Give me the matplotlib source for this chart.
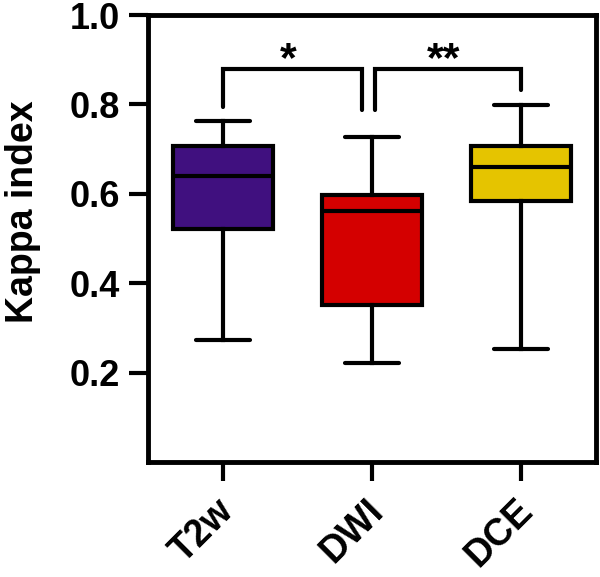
import matplotlib
matplotlib.use('Agg')
import matplotlib.pyplot as plt
import matplotlib.transforms as mtransforms

plt.rcParams['font.family'] = ['Liberation Sans', 'DejaVu Sans']
plt.rcParams['font.weight'] = 'bold'

groups = ['T2w', 'DWI', 'DCE']
whislo = [0.272, 0.222, 0.253]
q1 = [0.522, 0.352, 0.583]
med = [0.640, 0.562, 0.661]
q3 = [0.708, 0.598, 0.706]
whishi = [0.763, 0.728, 0.798]
colors = ['#40107F', '#D40000', '#E5C400']

# significance brackets: (x_left, x_right, y_top, left leg end, right leg end, label)
brackets = [
    (0.0, 0.936, 0.879, 0.795, 0.788, '*'),
    (1.02, 2.0, 0.879, 0.788, 0.832, '**'),
]

yticks = [0.2, 0.4, 0.6, 0.8, 1.0]

fig = plt.figure(figsize=(6, 5.77), dpi=100)
ax = fig.add_axes([0.2467, 0.1993, 0.7466, 0.7747])

stats = []
for i, g in enumerate(groups):
    stats.append({'label': g, 'whislo': whislo[i], 'q1': q1[i], 'med': med[i],
                  'q3': q3[i], 'whishi': whishi[i], 'fliers': []})

lw = 3.0
bp = ax.bxp(stats, positions=range(len(groups)), widths=0.67, capwidths=0.36,
            patch_artist=True, showfliers=False,
            boxprops=dict(linewidth=lw, edgecolor='black'),
            medianprops=dict(linewidth=lw, color='black'),
            whiskerprops=dict(linewidth=lw, color='black'),
            capprops=dict(linewidth=lw, color='black', solid_capstyle='round'))
for patch, c in zip(bp['boxes'], colors):
    patch.set_facecolor(c)

for xl, xr, yt, yl, yr, lab in brackets:
    ax.plot([xl, xl, xr, xr], [yl, yt, yt, yr], color='black', lw=lw,
            solid_joinstyle='miter', solid_capstyle='round')
    ax.text((xl + xr) / 2 - 0.03, yt - 0.024, lab, ha='center', va='bottom',
            fontsize=31, fontweight='bold')

ax.set_xlim(-0.5, 2.5)
ax.set_ylim(0.0, 1.0)
ax.set_yticks(yticks)
ax.set_yticklabels(['%.1f' % t for t in yticks])
ax.set_xticks(range(len(groups)))
ax.set_xticklabels(groups, rotation=45, ha='right', rotation_mode='anchor')
ax.tick_params(axis='both', length=14, width=3, labelsize=26, pad=6)
ax.tick_params(axis='x', labelsize=27, pad=8)
shift = mtransforms.ScaledTranslation(-0.07, 0, fig.dpi_scale_trans)
for lbl in ax.get_xticklabels():
    lbl.set_transform(lbl.get_transform() + shift)
for s in ax.spines.values():
    s.set_linewidth(3.5)
ax.set_ylabel('Kappa index', fontsize=27, fontweight='bold')
ax.yaxis.set_label_coords(-0.24, 0.56)

fig.savefig('out.png', dpi=100)
